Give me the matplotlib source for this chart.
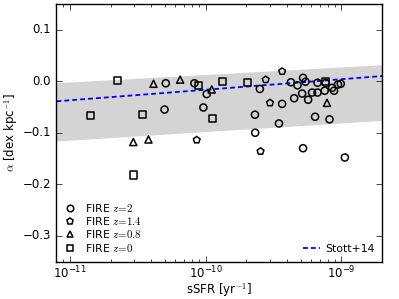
import matplotlib
matplotlib.use("Agg")
import matplotlib.pyplot as plt
import numpy as np
from matplotlib.lines import Line2D
from matplotlib.ticker import NullFormatter, FixedLocator, LogLocator

plt.style.use("classic")
plt.rcParams["font.family"] = ["DejaVu Sans"]
plt.rcParams["mathtext.fontset"] = "cm"

# ---- data ----
circ_x = [5.10e-11, 4.99e-11, 8.28e-11, 1.02e-10, 9.64e-11, 2.51e-10, 2.31e-10, 2.32e-10,
          3.66e-10, 3.47e-10, 4.25e-10, 4.75e-10, 5.22e-10, 5.44e-10, 5.14e-10, 4.49e-10,
          5.69e-10, 6.08e-10, 6.67e-10, 6.67e-10, 7.53e-10, 7.67e-10, 8.53e-10, 8.83e-10,
          9.44e-10, 9.89e-10, 6.40e-10, 8.17e-10, 5.22e-10, 1.06e-9]
circ_y = [-0.004, -0.055, -0.004, -0.025, -0.051, -0.015, -0.065, -0.100,
          -0.044, -0.082, -0.002, -0.008, 0.0065, -0.001, -0.024, -0.033,
          -0.036, -0.022, -0.022, -0.003, -0.0185, -0.0035, -0.013, -0.0185,
          -0.0064, -0.005, -0.069, -0.074, -0.130, -0.148]

pent_x = [8.61e-11, 2.54e-10, 2.77e-10, 2.98e-10, 3.66e-10]
pent_y = [-0.114, -0.136, 0.003, -0.042, 0.019]

tri_x = [4.14e-11, 6.50e-11, 1.11e-10, 2.94e-11, 3.80e-11, 7.83e-10]
tri_y = [-0.005, 0.003, -0.016, -0.118, -0.113, -0.042]

sq_x = [1.42e-11, 2.26e-11, 2.94e-11, 3.42e-11, 8.85e-11, 1.13e-10, 1.33e-10, 2.03e-10, 7.67e-10]
sq_y = [-0.066, 0.001, -0.182, -0.065, -0.008, -0.0725, -0.001, -0.0025, 0.0]

stott_x = [8e-12, 2e-9]
stott_y = [-0.039, 0.010]
band_x = [8e-12, 2e-9]
band_lo = [-0.116, -0.076]
band_hi = [-0.003, 0.032]

x_ticks = [1e-11, 1e-10, 1e-9]
x_ticklabels = [r"$10^{-11}$", r"$10^{-10}$", r"$10^{-9}$"]
y_ticks = [-0.3, -0.2, -0.1, 0.0, 0.1]
y_ticklabels = ["\u22120.3", "\u22120.2", "\u22120.1", "0.0", "0.1"]

labels = [r"FIRE $z\!=\!2$", r"FIRE $z\!=\!1.4$", r"FIRE $z\!=\!0.8$", r"FIRE $z\!=\!0$"]

fig = plt.figure(figsize=(3.99, 2.99), dpi=100, facecolor="white")
ax = fig.add_axes([0.1416, 0.125, 0.8166, 0.862])
ax.set_facecolor("white")

ax.fill_between(band_x, band_lo, band_hi, color="0.83", lw=0, zorder=1)
ax.plot(stott_x, stott_y, color="blue", ls="--", lw=1.3, dashes=(3.5, 2.2), zorder=2)

ms = 26
kw = dict(facecolors="none", edgecolors="black", linewidths=1.1, zorder=3, s=ms)
ax.scatter(circ_x, circ_y, marker="o", **kw)
ax.scatter(pent_x, pent_y, marker="p", **kw)
ax.scatter(tri_x, tri_y, marker="^", **kw)
ax.scatter(sq_x, sq_y, marker="s", **kw)

ax.set_xscale("log")
ax.set_xlim(8e-12, 2e-9)
ax.set_xticks(x_ticks)
ax.set_xticklabels([r"$\mathdefault{10^{-11}}$", r"$\mathdefault{10^{-10}}$", r"$\mathdefault{10^{-9}}$"])
ax.xaxis.set_minor_locator(LogLocator(base=10, subs=np.arange(2, 10)))
ax.xaxis.set_minor_formatter(NullFormatter())
ax.set_ylim(-0.35, 0.15)
ax.set_yticks(y_ticks)
ax.set_yticklabels(y_ticklabels)
ax.tick_params(which="both", direction="in", top=True, right=True, labelsize=8.5)
ax.tick_params(which="major", length=4)
ax.tick_params(which="minor", length=2)
ax.tick_params(axis="x", pad=2)

ax.set_xlabel(r"sSFR [yr$^{-1}$]", fontsize=8.5, labelpad=0)
ax.set_ylabel(r"$\alpha$ [dex kpc$^{-1}$]", fontsize=8.5, labelpad=2)

handles = [Line2D([], [], ls="none", marker=m, mfc="none", mec="black", mew=1.1, ms=4.7)
           for m in ["o", "p", "^", "s"]]
leg1 = ax.legend(handles, labels, loc="lower left", frameon=False, fontsize=7.8,
                 numpoints=1, handlelength=1.0, handletextpad=0.9, labelspacing=0.12,
                 borderaxespad=0.35, bbox_to_anchor=(0.0, 0.0))
ax.add_artist(leg1)
h2 = Line2D([], [], color="blue", ls="--", lw=1.3, dashes=(3.5, 2.2))
ax.legend([h2], ["Stott+14"], loc="lower right", frameon=False, fontsize=7.8,
          handlelength=2.2, handletextpad=0.2, borderaxespad=0.3)

fig.savefig("out.png", dpi=100, facecolor="white")
